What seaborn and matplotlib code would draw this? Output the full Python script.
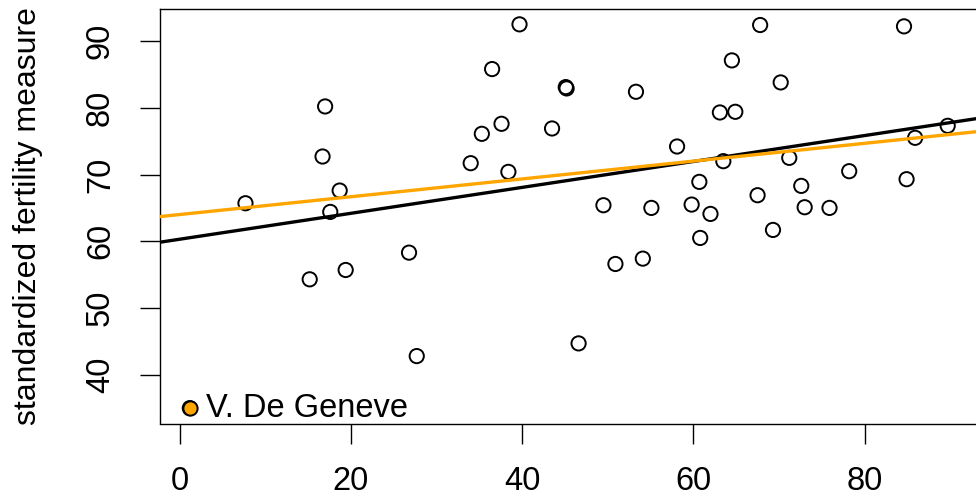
import numpy as np
import pandas as pd
import matplotlib
matplotlib.use("Agg")
import matplotlib.pyplot as plt
import seaborn as sns

provinces = ["Courtelary", "Delemont", "Franches-Mnt", "Moutier", "Neuveville", "Porrentruy",
             "Broye", "Glane", "Gruyere", "Sarine", "Veveyse", "Aigle", "Aubonne", "Avenches",
             "Cossonay", "Echallens", "Grandson", "Lausanne", "La Vallee", "Lavaux", "Morges",
             "Moudon", "Nyone", "Orbe", "Oron", "Payerne", "Paysd'enhaut", "Rolle", "Vevey",
             "Yverdon", "Conthey", "Entremont", "Herens", "Martigwy", "Monthey", "St Maurice",
             "Sierre", "Sion", "Boudry", "La Chauxdfnd", "Le Locle", "Neuchatel", "Val de Ruz",
             "ValdeTravers", "V. De Geneve", "Rive Droite", "Rive Gauche"]
agriculture = [17.0, 45.1, 39.7, 36.5, 43.5, 35.3, 70.2, 67.8, 53.3, 45.2, 64.5, 62.0, 67.5,
               60.7, 69.3, 72.6, 34.0, 19.4, 15.2, 73.0, 59.8, 55.1, 50.9, 54.1, 71.2, 58.1,
               63.5, 60.8, 26.8, 49.5, 85.9, 84.9, 89.7, 78.2, 64.9, 75.9, 84.6, 63.1, 38.4,
               7.7, 16.7, 17.6, 37.6, 18.7, 1.2, 46.6, 27.7]
fertility = [80.2, 83.1, 92.5, 85.8, 76.9, 76.1, 83.8, 92.4, 82.4, 82.9, 87.1, 64.1, 66.9,
             68.9, 61.7, 68.3, 71.7, 55.7, 54.3, 65.1, 65.5, 65.0, 56.6, 57.4, 72.5, 74.2,
             72.0, 60.5, 58.3, 65.4, 75.5, 69.3, 77.3, 70.5, 79.4, 65.0, 92.2, 79.3, 70.4,
             65.7, 72.7, 64.4, 77.6, 67.6, 35.0, 44.7, 42.8]
highlight = "V. De Geneve"
x_ticks = [0, 20, 40, 60, 80]
y_ticks = [40, 50, 60, 70, 80, 90]
y_label = "standardized fertility measure"

df = pd.DataFrame({"Province": provinces, "Agriculture": agriculture, "Fertility": fertility})
df_hl = df[df["Province"] == highlight]
df_rest = df[df["Province"] != highlight]

sns.set_style("ticks")
plt.rcParams["font.family"] = ["Liberation Sans", "DejaVu Sans"]
plt.rcParams.update({"text.color": "black", "xtick.color": "black", "ytick.color": "black",
                     "axes.labelcolor": "black", "axes.edgecolor": "black"})

FS = 23.5
W, H = 976, 499
fig = plt.figure(figsize=(W / 100, H / 100), dpi=100)
ax = fig.add_axes([159.5 / W, 1 - 423.5 / H, (978 - 159.5) / W, (423.5 - 9) / H])

xmin, xmax = min(agriculture), max(agriculture)
ymin, ymax = min(fertility), max(fertility)
xl = (xmin - 0.04 * (xmax - xmin), xmax + 0.04 * (xmax - xmin))
yl = (ymin - 0.04 * (ymax - ymin), ymax + 0.04 * (ymax - ymin))
ax.set_xlim(xl)
ax.set_ylim(yl)

sns.scatterplot(data=df, x="Agriculture", y="Fertility", ax=ax, s=105,
                facecolor="none", edgecolor="black", linewidth=1.4, zorder=3)
sns.scatterplot(data=df_hl, x="Agriculture", y="Fertility", ax=ax, s=105,
                facecolor="#FFA500", edgecolor="black", linewidth=1.4, zorder=3)

ax.set_xlim(xl)
ax.set_ylim(yl)
sns.regplot(data=df, x="Agriculture", y="Fertility", ax=ax, scatter=False, ci=None,
            truncate=False, color="black", line_kws={"linewidth": 2.4, "zorder": 4})
sns.regplot(data=df_rest, x="Agriculture", y="Fertility", ax=ax, scatter=False, ci=None,
            truncate=False, color="#FFA500", line_kws={"linewidth": 2.4, "zorder": 5})
ax.set_xlim(xl)
ax.set_ylim(yl)

row = df_hl.iloc[0]
ax.annotate(highlight, xy=(row["Agriculture"], row["Fertility"]), xytext=(12, 0),
            textcoords="offset points", ha="left", va="center", fontsize=FS, color="black")

ax.set_xticks(x_ticks)
ax.set_yticks(y_ticks)
ax.set_xlabel("")
ax.set_ylabel("")
ax.tick_params(axis="both", length=14.4, width=1.0, labelsize=FS, color="black",
               labelcolor="black")
ax.tick_params(axis="x", pad=16)
ax.tick_params(axis="y", pad=17)
for lab in ax.get_yticklabels():
    lab.set_rotation(90)
    lab.set_va("center")
for s in ax.spines.values():
    s.set_linewidth(1.0)
    s.set_color("black")

fig.text(28 / W, 1 - 216 / H, y_label, rotation=90, ha="center", va="center",
         fontsize=23, color="black")

fig.savefig("out.png", dpi=100)
